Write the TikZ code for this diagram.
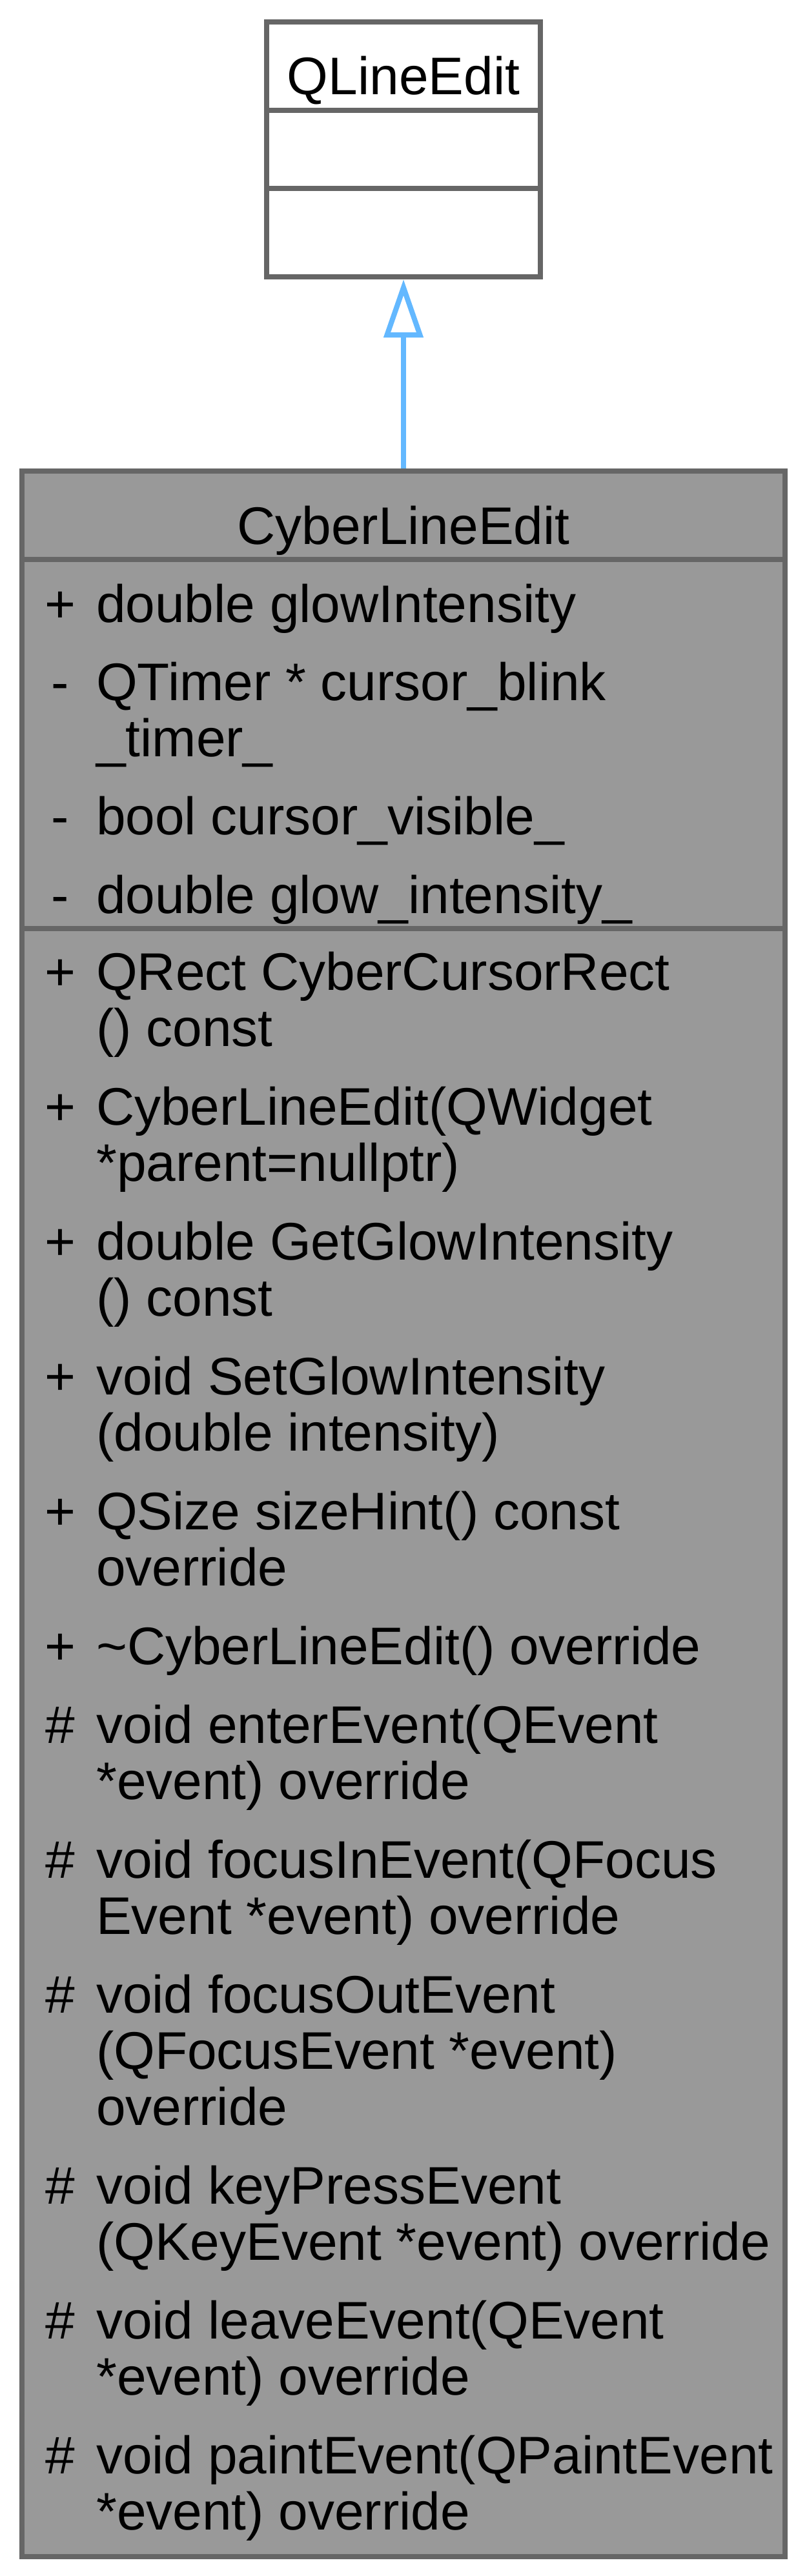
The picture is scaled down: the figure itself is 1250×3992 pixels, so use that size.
\documentclass[tikz,border=0pt]{standalone}
\usepackage{fontspec}
\setmainfont{Liberation Sans}
\usetikzlibrary{arrows.meta}

\definecolor{boxLine}{HTML}{666666}
\definecolor{boxFill}{HTML}{999999}
\definecolor{inhArrow}{HTML}{63B8FF}

\begin{document}
\begin{tikzpicture}[
    x=1pt, y=1pt, every node/.style={font=\fontsize{82}{87}\selectfont, inner sep=0pt},
    classBox/.style={rectangle, draw=boxLine, line width=8pt},
    sepLine/.style={draw=boxLine, line width=8pt},
    member/.style={anchor=base west},
    visSym/.style={anchor=base},
    inherit/.style={draw=inhArrow, line width=8pt, -{Triangle[open, length=90pt, width=60pt]}}
]
    \useasboundingbox (0,0) rectangle (1250,-3992);

    \node[classBox, fill=white, minimum width=424pt, minimum height=395pt] (qle) at (625,-231.5) {};
    \node[classBox, fill=boxFill, minimum width=1182pt, minimum height=3232pt] (cle) at (625,-2346) {};

    \draw[sepLine] (qle.west |- 0,-171) -- (qle.east |- 0,-171);
    \draw[sepLine] (qle.west |- 0,-292) -- (qle.east |- 0,-292);
    \draw[sepLine] (cle.west |- 0,-867) -- (cle.east |- 0,-867);
    \draw[sepLine] (cle.west |- 0,-1439) -- (cle.east |- 0,-1439);

    \node[anchor=base] (qleName) at (625,-146) {QLineEdit};
    \node[anchor=base] (cleName) at (625,-843) {CyberLineEdit};

    \draw[inherit] (cle.north) -- (qle.south);

    \foreach \y/\sym [count=\i] in {964/+, 1085/-, 1293/-, 1415/-,
        1534/+, 1743/+, 1952/+, 2161/+, 2370/+, 2579/+,
        2701/\#, 2910/\#, 3119/\#, 3415/\#, 3624/\#, 3833/\#}
        \node[visSym] (vis\i) at (93,-\y) {\sym};

    \foreach \y/\txt [count=\i] in {
        964/{double glowIntensity},
        1085/{QTimer * cursor\_blink}, 1172/{\_timer\_},
        1293/{bool cursor\_visible\_},
        1415/{double glow\_intensity\_},
        1534/{QRect CyberCursorRect}, 1621/{() const},
        1743/{CyberLineEdit(QWidget}, 1830/{*parent=nullptr)},
        1952/{double GetGlowIntensity}, 2039/{() const},
        2161/{void SetGlowIntensity}, 2248/{(double intensity)},
        2370/{QSize sizeHint() const}, 2457/{override},
        2579/{\textasciitilde CyberLineEdit() override},
        2701/{void enterEvent(QEvent}, 2788/{*event) override},
        2910/{void focusInEvent(QFocus}, 2997/{Event *event) override},
        3119/{void focusOutEvent}, 3206/{(QFocusEvent *event)}, 3293/{override},
        3415/{void keyPressEvent}, 3502/{(QKeyEvent *event) override},
        3624/{void leaveEvent(QEvent}, 3711/{*event) override},
        3833/{void paintEvent(QPaintEvent}, 3920/{*event) override}}
        \node[member] (mem\i) at (149,-\y) {\txt};
\end{tikzpicture}
\end{document}
